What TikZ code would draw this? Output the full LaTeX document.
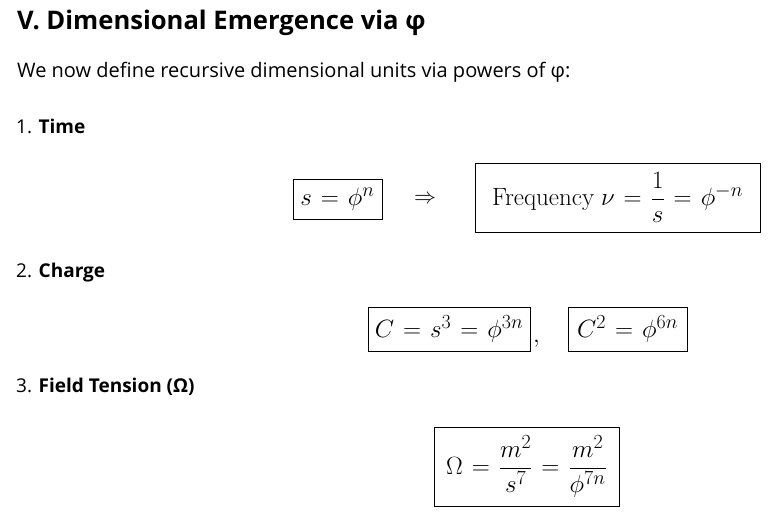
\RequirePackage{fix-cm}
\documentclass[tikz,border=0pt]{standalone}
\usepackage{amsmath}
\usepackage[no-math]{fontspec}
\setmainfont{Open Sans}
\usepackage{tikz}
\usetikzlibrary{positioning}
\DeclareMathSizes{25}{25}{20}{16}
\thickmuskip=6.5mu plus 5mu

\tikzset{
  head/.style={anchor=base west, inner sep=0pt, font=\fontsize{19}{23}\selectfont},
  eqbox/.style={draw, line width=0.9pt, inner sep=0pt, font=\fontsize{25}{30}\selectfont}
}

\begin{document}
\begin{tikzpicture}[x=1pt, y=-1pt]
        \useasboundingbox (0,0) rectangle (772,514);

        \node[head, font=\fontsize{25.6}{30}\selectfont\bfseries] (title) at (17,29) {V. Dimensional Emergence via φ};
        \node[head, font=\fontsize{20}{24}\selectfont] (intro) at (17,77) {We now define recursive dimensional units via powers of φ:};

        \node[head] (time) at (16,133) {1. \textbf{Time}};
        \node[head] (charge) at (16,277) {2. \textbf{Charge}};
        \node[head] (tension) at (16,392) {3. \textbf{Field Tension (Ω)}};

        \node[eqbox, minimum width=89, minimum height=40] (period) at (337.5,199) {$s = \phi^{n}$};
        \node[font=\fontsize{22}{26}\selectfont] (implies) at (425,199) {$\Rightarrow$};
        \node[eqbox, minimum width=285, minimum height=69] (freq) at (617.5,197.5)
            {$\mathrm{Frequency}\ \nu = \dfrac{1}{s} = \phi^{-n}$};

        \node[eqbox, minimum width=162, minimum height=44] (charge1) at (449,329) {$C = s^{3} = \phi^{3n}$};
        \node[anchor=base west, inner sep=0pt, font=\fontsize{25}{30}\selectfont] (comma) at (533,342) {$,$};
        \node[eqbox, minimum width=119, minimum height=44] (charge2) at (627.5,329) {$C^{2} = \phi^{6n}$};

        \node[eqbox, minimum width=185, minimum height=79] (omega) at (526.5,466.5)
            {$\Omega = \dfrac{m^{2}}{s^{7}} = \dfrac{m^{2}}{\phi^{7n}}$};
    \end{tikzpicture}
\end{document}
